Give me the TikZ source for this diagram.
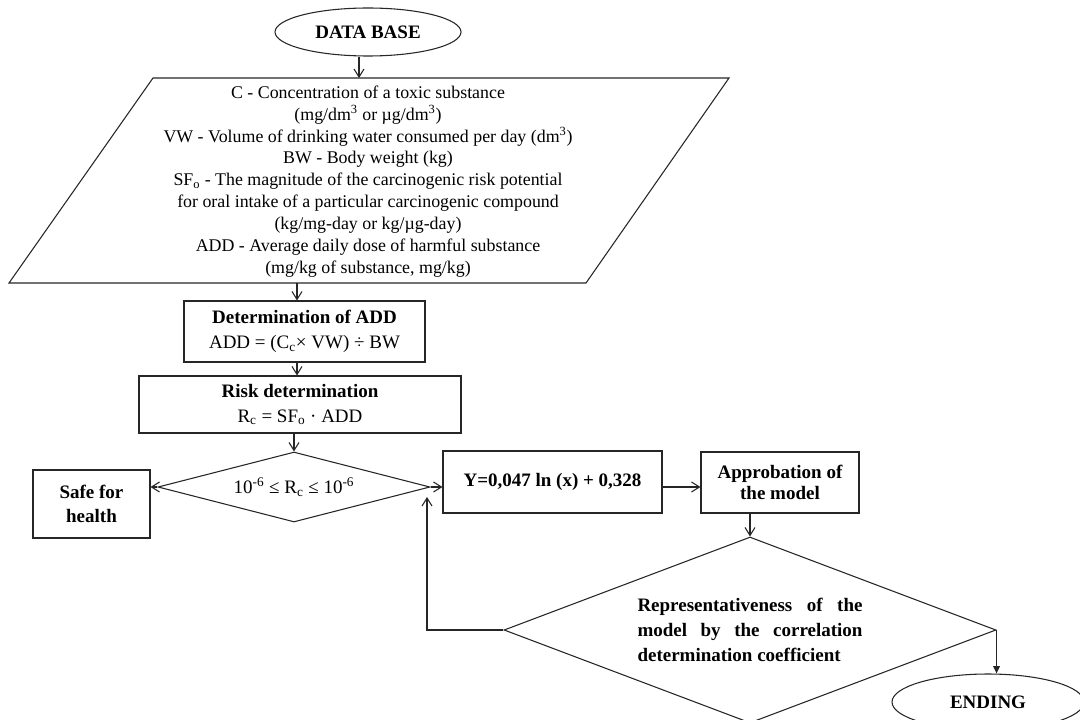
\documentclass[tikz,border=0pt]{standalone}
\usepackage{fontspec}
\setmainfont{Liberation Serif}
\usetikzlibrary{shapes.geometric,arrows.meta}
\begin{document}
\begin{tikzpicture}[x=0.75pt,y=-0.75pt,
  line width=0.8pt,
  every node/.style={inner sep=0pt},
  arr/.style={draw=black!85,-{Straight Barb[length=6pt,width=7.5pt]}},
  arrf/.style={draw=black!85,-{Triangle[length=5.5pt,width=5pt]}},
  boxnode/.style={draw=black!85,rectangle,align=center,font=\fontsize{14.25}{18.75}\selectfont},
  ovalnode/.style={draw=black!85,ellipse,font=\fontsize{14.25}{17}\selectfont\bfseries},
  decnode/.style={draw=black!85,diamond,font=\fontsize{14.25}{18.75}\selectfont}
]
\useasboundingbox (0,0) rectangle (1080,720);

% start
\node[ovalnode,minimum width=139.5pt,minimum height=36pt] (db) at (368,32) {DATA BASE};

% input parallelogram
\draw[black!85] (153,78) -- (729,78) -- (586,283) -- (9,283) -- cycle;
\coordinate (paratop) at (359,78);
\coordinate (parabot) at (297,283);
\node[align=center,font=\fontsize{13.4}{16.4}\selectfont] (para) at (368,181.5) {%
C - Concentration of a toxic substance\\
(mg/dm\textsuperscript{3} or µg/dm\textsuperscript{3})\\
VW - Volume of drinking water consumed per day (dm\textsuperscript{3})\\
BW - Body weight (kg)\\
SF\textsubscript{o} - The magnitude of the carcinogenic risk potential\\
for oral intake of a particular carcinogenic compound\\
(kg/mg-day or kg/µg-day)\\
ADD - Average daily dose of harmful substance\\
(mg/kg of substance, mg/kg)};

% boxes
\node[boxnode,minimum width=180.75pt,minimum height=45.75pt] (b1) at (304.5,331.5)
  {\textbf{Determination of ADD}\\ADD = (C\textsubscript{c}× VW) ÷ BW};
\node[boxnode,minimum width=241.5pt,minimum height=42.75pt] (b2) at (300,404.5)
  {\textbf{Risk determination}\\R\textsubscript{c} = SF\textsubscript{o} · ADD};
\node[decnode,minimum width=204pt,minimum height=52.5pt,shape aspect=3.9] (d1) at (294,487)
  {10\textsuperscript{-6} ≤ R\textsubscript{c} ≤ 10\textsuperscript{-6}};
\node[boxnode,font=\fontsize{14.25}{18}\selectfont\bfseries,minimum width=87.75pt,minimum height=51pt] (safe) at (91.5,504)
  {Safe for\\health};
\node[boxnode,font=\fontsize{14.25}{18}\selectfont\bfseries,minimum width=164.25pt,minimum height=46.5pt] (ybox) at (552.5,482)
  {Y=0,047 ln (x) + 0,328};
\node[boxnode,font=\fontsize{14.25}{15.75}\selectfont\bfseries,minimum width=118.5pt,minimum height=45.75pt] (appr) at (780,482.5)
  {Approbation of\\the model};
\node[decnode,font=\fontsize{14.25}{18.75}\selectfont\bfseries,align=left,minimum width=369pt,minimum height=139.5pt,shape aspect=2.645] (d2) at (750,630)
  {\makebox[168.75pt][s]{Representativeness of the}\\
   \makebox[168.75pt][s]{model by the correlation}\\
   determination coefficient};
\node[ovalnode,minimum width=144pt,minimum height=42pt] (end) at (988,702) {ENDING};

\coordinate (loopcorner) at (427,630);
\coordinate (looptip) at (427,497);
\coordinate (yarr) at (0,487);

% connectors
\draw[arr] (db.south -| paratop) -- (paratop);
\draw[arr] (parabot) -- (parabot |- b1.north);
\draw[arr] (b1.south -| parabot) -- (b2.north -| parabot);
\draw[arr] (b2.south -| d1.north) -- (d1.north);
\draw[arr] (d1.west) -- (safe.east |- d1.west);
\draw[arr] (d1.east) -- (ybox.west |- d1.east);
\draw[arr] (ybox.east |- yarr) -- (appr.west |- yarr);
\draw[arr] (appr.south -| d2.north) -- (d2.north);
\draw[arr] (d2.west) -- (loopcorner) -- (looptip);
\draw[arrf] (d2.east) -- (d2.east |- end.north);
\end{tikzpicture}
\end{document}
